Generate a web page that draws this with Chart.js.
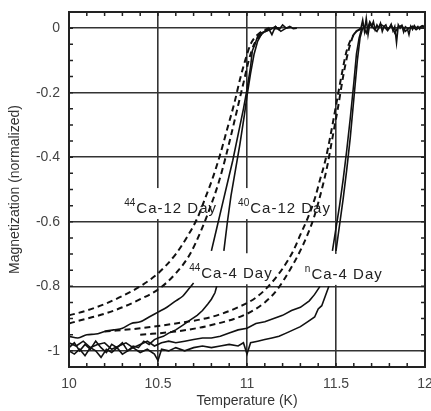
<!DOCTYPE html>
<html>
<head>
<meta charset="utf-8">
<script src="https://cdn.jsdelivr.net/npm/chart.js@4.4.1/dist/chart.umd.min.js"></script>
<style>
  body { margin: 0; background: #fff; }
  canvas { display: block; }
</style>
</head>
<body>
<canvas id="myChart" width="431" height="411"></canvas>
<script>
// tick labels
var xTickVals = [10, 10.5, 11, 11.5, 12];
var xTickLabels = ["10", "10.5", "11", "11.5", "12"];
var yTickVals = [0, -0.2, -0.4, -0.6, -0.8, -1];
var yTickLabels = ["0", "-0.2", "-0.4", "-0.6", "-0.8", "-1"];

// curve labels (superscript + text, anchored in data coords)
var labelSup = ["44", "40", "44", "n"];
var labelText = ["Ca-12 Day", "Ca-12 Day", "Ca-4 Day", "Ca-4 Day"];
var labelT = [10.31, 10.95, 10.675, 11.325];
var labelM = [-0.573, -0.573, -0.775, -0.777];

// dashed curves, lower transition
var dashA_T = [10.0, 10.1, 10.2, 10.3, 10.4, 10.5, 10.6, 10.66, 10.72, 10.77, 10.81, 10.85, 10.89, 10.93, 10.96, 10.99, 11.02, 11.06, 11.1, 11.15];
var dashA_M = [-0.89, -0.875, -0.855, -0.83, -0.8, -0.76, -0.7, -0.65, -0.59, -0.52, -0.46, -0.39, -0.31, -0.23, -0.16, -0.1, -0.05, -0.02, -0.005, 0.0];
var dashB_T = [10.0, 10.1, 10.2, 10.3, 10.4, 10.5, 10.6, 10.68, 10.74, 10.79, 10.84, 10.88, 10.92, 10.95, 10.98, 11.01, 11.04, 11.08, 11.12, 11.18];
var dashB_M = [-0.915, -0.9, -0.885, -0.865, -0.84, -0.81, -0.76, -0.7, -0.63, -0.56, -0.48, -0.4, -0.31, -0.24, -0.17, -0.1, -0.05, -0.02, -0.005, 0.0];

// dashed curves, upper transition
var dashC_T = [10.2, 10.4, 10.6, 10.8, 10.95, 11.05, 11.12, 11.2, 11.26, 11.3, 11.34, 11.38, 11.41, 11.44, 11.47, 11.5, 11.53, 11.56, 11.6, 11.64];
var dashC_M = [-0.94, -0.93, -0.915, -0.895, -0.865, -0.835, -0.8, -0.745, -0.69, -0.64, -0.59, -0.53, -0.47, -0.41, -0.33, -0.24, -0.15, -0.07, -0.02, 0.0];
var dashD_T = [10.4, 10.6, 10.8, 11.0, 11.1, 11.17, 11.24, 11.29, 11.34, 11.38, 11.42, 11.45, 11.48, 11.51, 11.54, 11.57, 11.6, 11.65];
var dashD_M = [-0.95, -0.94, -0.92, -0.885, -0.85, -0.81, -0.75, -0.7, -0.64, -0.58, -0.5, -0.43, -0.34, -0.25, -0.15, -0.07, -0.02, 0.0];

// steep solid curves (12 day)
var steepA_T = [10.8, 10.83, 10.86, 10.89, 10.92, 10.95, 10.98, 11.0, 11.02, 11.03, 11.045, 11.06, 11.08, 11.1, 11.12, 11.14, 11.16, 11.18, 11.2, 11.22, 11.24, 11.26, 11.28];
var steepA_M = [-0.69, -0.62, -0.55, -0.48, -0.41, -0.33, -0.25, -0.19, -0.12, -0.07, -0.05, -0.025, -0.015, -0.01, 0.0, -0.02, 0.005, -0.005, 0.01, 0.0, 0.005, -0.002, 0.0];
var steepB_T = [10.87, 10.89, 10.91, 10.935, 10.96, 10.985, 11.0, 11.02, 11.04, 11.06, 11.08, 11.1, 11.13, 11.16, 11.19, 11.22, 11.25];
var steepB_M = [-0.69, -0.6, -0.52, -0.44, -0.36, -0.27, -0.21, -0.14, -0.08, -0.04, -0.02, -0.01, -0.005, 0.005, -0.01, 0.0, 0.003];
var steepC_T = [11.48, 11.5, 11.52, 11.54, 11.56, 11.58, 11.6, 11.615, 11.63, 11.645];
var steepC_M = [-0.69, -0.62, -0.55, -0.47, -0.38, -0.28, -0.17, -0.08, -0.03, 0.0];
var steepD_T = [11.5, 11.52, 11.54, 11.56, 11.58, 11.6, 11.62, 11.635, 11.65];
var steepD_M = [-0.69, -0.61, -0.53, -0.44, -0.34, -0.22, -0.1, -0.03, 0.0];

// noisy plateau above the upper transition
var topA_T = [11.64, 11.65, 11.66, 11.67, 11.68, 11.69, 11.7, 11.71, 11.72, 11.73, 11.74, 11.75, 11.76, 11.77, 11.78, 11.79, 11.8, 11.81, 11.82, 11.83, 11.84, 11.85, 11.86, 11.87, 11.88, 11.89, 11.9, 11.91, 11.92, 11.93, 11.94, 11.95, 11.96, 11.97, 11.98, 11.99, 12.0];
var topA_M = [0.0, 0.025, -0.01, 0.03, -0.02, 0.015, 0.005, 0.02, -0.005, 0.01, 0.0, 0.015, -0.01, 0.005, 0.01, -0.005, 0.0, 0.012, -0.008, 0.005, -0.045, 0.01, 0.0, 0.008, -0.012, 0.004, 0.0, -0.02, 0.006, -0.004, 0.008, 0.0, 0.005, -0.003, 0.006, 0.004, 0.01];
var topB_T = [11.65, 11.67, 11.69, 11.71, 11.73, 11.75, 11.77, 11.79, 11.81, 11.83, 11.85, 11.87, 11.89, 11.91, 11.93, 11.95, 11.97, 11.99];
var topB_M = [0.01, -0.015, 0.02, 0.0, -0.01, 0.012, 0.005, -0.008, 0.01, -0.015, 0.004, 0.008, -0.01, 0.0, 0.006, -0.005, 0.003, 0.008];

// broad solid curves (4 day)
var broadA_T = [10.0, 10.05, 10.1, 10.15, 10.2, 10.25, 10.3, 10.35, 10.4, 10.45, 10.5, 10.55, 10.6, 10.64, 10.67, 10.7];
var broadA_M = [-0.955, -0.96, -0.95, -0.948, -0.94, -0.935, -0.93, -0.915, -0.91, -0.895, -0.88, -0.865, -0.845, -0.83, -0.81, -0.79];
var broadB_T = [10.0, 10.03, 10.06, 10.09, 10.12, 10.15, 10.18, 10.21, 10.24, 10.27, 10.3, 10.33, 10.36, 10.39, 10.42, 10.45, 10.48, 10.5, 10.53, 10.56, 10.6, 10.64, 10.68, 10.72, 10.75, 10.78, 10.8, 10.82, 10.83];
var broadB_M = [-0.99, -0.975, -1.0, -0.98, -0.995, -0.97, -0.99, -1.005, -0.98, -0.99, -0.975, -1.0, -0.985, -0.99, -0.97, -0.98, -0.965, -0.96, -0.955, -0.945, -0.935, -0.92, -0.905, -0.89, -0.875, -0.855, -0.84, -0.82, -0.8];
var broadC_T = [10.0, 10.04, 10.08, 10.12, 10.16, 10.2, 10.24, 10.28, 10.32, 10.36, 10.4, 10.44, 10.48, 10.52, 10.56, 10.6, 10.65, 10.7, 10.75, 10.8, 10.85, 10.9, 10.95, 11.0, 11.05, 11.1, 11.15, 11.2, 11.25, 11.3, 11.35, 11.38, 11.41];
var broadC_M = [-0.975, -0.985, -0.97, -0.99, -0.98, -0.975, -0.995, -0.985, -0.975, -0.99, -0.98, -0.97, -0.985, -0.975, -0.97, -0.975, -0.97, -0.965, -0.96, -0.96, -0.955, -0.945, -0.935, -0.93, -0.915, -0.91, -0.9, -0.89, -0.875, -0.865, -0.845, -0.825, -0.8];
var broadD_T = [10.0, 10.03, 10.06, 10.09, 10.12, 10.15, 10.18, 10.21, 10.24, 10.27, 10.3, 10.33, 10.36, 10.4, 10.44, 10.48, 10.5, 10.52, 10.56, 10.6, 10.65, 10.7, 10.75, 10.8, 10.85, 10.9, 10.95, 10.98, 11.0, 11.02, 11.06, 11.1, 11.14, 11.18, 11.22, 11.26, 11.3, 11.34, 11.38, 11.4, 11.42, 11.44, 11.46];
var broadD_M = [-1.0, -1.01, -0.995, -1.015, -0.99, -1.0, -1.02, -0.995, -1.005, -0.99, -1.01, -1.0, -0.99, -1.005, -0.995, -1.01, -1.03, -0.995, -1.0, -0.99, -1.0, -0.99, -0.985, -0.99, -0.985, -0.98, -0.985, -0.975, -1.01, -0.975, -0.97, -0.965, -0.96, -0.955, -0.945, -0.935, -0.925, -0.91, -0.895, -0.87, -0.86, -0.83, -0.8];

var ink = "#111";
var labelFont = "15px 'Liberation Sans', Arial, sans-serif";
var supFont = "10px 'Liberation Sans', Arial, sans-serif";

// builds one line dataset from a temperature / magnetization pair
function curve(T, M, dashed, width, smooth) {
  return {
    data: T.map(function (t, i) { return { x: t, y: M[i] }; }),
    borderColor: ink,
    borderWidth: width,
    borderDash: dashed ? [6, 4] : [],
    pointRadius: 0,
    fill: false,
    cubicInterpolationMode: smooth ? "monotone" : "default",
    tension: 0
  };
}

// white boxes behind the labels, frame, inward minor ticks, label text
var decor = {
  id: "decor",
  beforeDatasetsDraw: function (chart) {
    var ctx = chart.ctx;
    var sx = chart.scales.x, sy = chart.scales.y;
    ctx.save();
    ctx.fillStyle = "#fff";
    for (var i = 0; i < labelText.length; i++) {
      var x = sx.getPixelForValue(labelT[i]);
      var y = sy.getPixelForValue(labelM[i]);
      ctx.font = labelFont;
      ctx.letterSpacing = "1px";
      var w = ctx.measureText(labelText[i]).width + 14;
      ctx.fillRect(x - 2, y - 25, w + 4, 31);
    }
    ctx.restore();
  },
  afterDatasetsDraw: function (chart) {
    var ctx = chart.ctx;
    var a = chart.chartArea;
    var sx = chart.scales.x, sy = chart.scales.y;
    ctx.save();
    ctx.strokeStyle = "#222";
    ctx.lineWidth = 1.5;
    ctx.beginPath();
    var t, p;
    for (t = 100; t <= 120; t++) {
      p = sx.getPixelForValue(t / 10);
      ctx.moveTo(p, a.bottom); ctx.lineTo(p, a.bottom - 4);
      ctx.moveTo(p, a.top); ctx.lineTo(p, a.top + 4);
    }
    for (t = -21; t <= 1; t++) {
      p = sy.getPixelForValue(t / 20);
      ctx.moveTo(a.left, p); ctx.lineTo(a.left + 4, p);
      ctx.moveTo(a.right, p); ctx.lineTo(a.right - 4, p);
    }
    ctx.stroke();
    ctx.lineWidth = 2;
    ctx.strokeRect(a.left, a.top, a.right - a.left, a.bottom - a.top);

    // curve labels
    ctx.fillStyle = "#222";
    ctx.textBaseline = "alphabetic";
    for (var i = 0; i < labelText.length; i++) {
      var x = sx.getPixelForValue(labelT[i]);
      var y = sy.getPixelForValue(labelM[i]);
      ctx.letterSpacing = "0px";
      ctx.font = supFont;
      ctx.fillText(labelSup[i], x, y - 7);
      var sw = ctx.measureText(labelSup[i]).width;
      ctx.letterSpacing = "1px";
      ctx.font = labelFont;
      ctx.fillText(labelText[i], x + sw + 1, y);
    }
    ctx.restore();
  }
};

Chart.defaults.font.family = "'Liberation Sans', Arial, sans-serif";
Chart.defaults.color = "#333";

var ctx = document.getElementById("myChart");
var myChart = new Chart(ctx, {
  type: "line",
  data: {
    datasets: [
      curve(broadD_T, broadD_M, false, 1.6, false),
      curve(broadC_T, broadC_M, false, 1.6, false),
      curve(broadB_T, broadB_M, false, 1.6, false),
      curve(broadA_T, broadA_M, false, 1.6, true),
      curve(dashA_T, dashA_M, true, 2, true),
      curve(dashB_T, dashB_M, true, 2, true),
      curve(dashC_T, dashC_M, true, 2, true),
      curve(dashD_T, dashD_M, true, 2, true),
      curve(steepA_T, steepA_M, false, 1.6, false),
      curve(steepB_T, steepB_M, false, 1.6, false),
      curve(steepC_T, steepC_M, false, 1.6, false),
      curve(steepD_T, steepD_M, false, 1.6, false),
      curve(topA_T, topA_M, false, 1.6, false),
      curve(topB_T, topB_M, false, 1.6, false)
    ]
  },
  options: {
    responsive: false,
    animation: false,
    layout: { autoPadding: false, padding: { top: 12, right: 6, left: 0, bottom: 0 } },
    plugins: { legend: { display: false }, tooltip: { enabled: false } },
    scales: {
      x: {
        type: "linear",
        min: 10,
        max: 12,
        afterBuildTicks: function (scale) {
          scale.ticks = xTickVals.map(function (v) { return { value: v }; });
        },
        afterFit: function (scale) {
          scale.height = 44;
          scale.paddingLeft = 0;
          scale.paddingRight = 0;
        },
        ticks: {
          font: { size: 14 },
          color: "#444",
          padding: 9,
          maxRotation: 0,
          callback: function (v, i) { return xTickLabels[i]; }
        },
        grid: { color: "#333", lineWidth: 1.6, drawTicks: false },
        border: { display: false },
        title: { display: true, text: "Temperature (K)", font: { size: 14 }, color: "#333", padding: { top: 0, bottom: 1 } }
      },
      y: {
        min: -1.05,
        max: 0.05,
        afterBuildTicks: function (scale) {
          scale.ticks = yTickVals.map(function (v) { return { value: v }; });
        },
        afterFit: function (scale) {
          scale.width = 69;
          scale.paddingTop = 0;
          scale.paddingBottom = 0;
        },
        ticks: {
          font: { size: 14 },
          color: "#444",
          padding: 9,
          callback: function (v, i) { return yTickLabels[i]; }
        },
        grid: { color: "#333", lineWidth: 1.6, drawTicks: false },
        border: { display: false },
        title: { display: true, text: "Magnetization (normalized)", font: { size: 14 }, color: "#333", padding: { top: 7, bottom: 0 } }
      }
    }
  },
  plugins: [decor]
});
</script>
</body>
</html>
